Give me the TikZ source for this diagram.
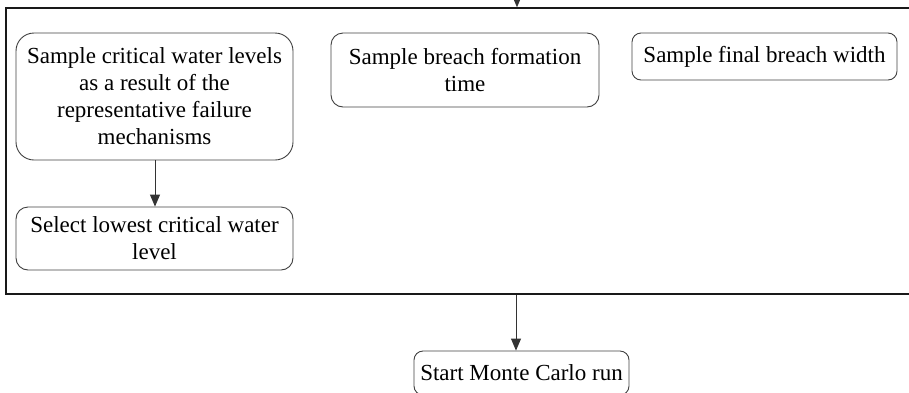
\documentclass[tikz,border=0pt]{standalone}
\usepackage{fontspec}
\setmainfont{Liberation Serif}
\usetikzlibrary{arrows.meta}
\begin{document}
\begin{tikzpicture}[x=1bp,y=-1bp,
  box/.style={draw=black!75, line width=0.9bp, inner sep=0pt, align=center,
    font=\fontsize{23bp}{27bp}\selectfont},
  arr/.style={-{Triangle[width=10bp,length=12bp]}, line width=0.9bp, draw=black!80}]
\useasboundingbox (0,0) rectangle (909,392);
\node[draw=black!90, line width=1.5bp, minimum width=914bp, minimum height=286bp, inner sep=0pt] (frame) at (463,151) {};
\node[box, rounded corners=18bp, minimum width=277bp, minimum height=127bp] (crit) at (154.5,96.5)
  {Sample critical water levels\\as a result of the\\representative failure\\mechanisms};
\node[box, rounded corners=12bp, minimum width=268bp, minimum height=74bp] (form) at (465,70)
  {Sample breach formation\\time};
\node[box, rounded corners=9bp, minimum width=265bp, minimum height=47bp] (width) at (764.5,56.5)
  {Sample final breach width};
\node[box, rounded corners=12bp, minimum width=277bp, minimum height=63bp] (low) at (154.5,238.5)
  {Select lowest critical water\\level};
\node[box, rounded corners=9bp, minimum width=215bp, minimum height=44bp] (start) at (521.5,373)
  {Start Monte Carlo run};
\coordinate (in) at (517,-2);
\coordinate (ax) at (516,0);
\draw[arr] (in) -- (in |- frame.north);
\draw[arr] (crit.south -| 155,0) -- (low.north -| 155,0);
\draw[arr] (frame.south -| ax) -- (start.north -| ax);
\end{tikzpicture}
\end{document}
